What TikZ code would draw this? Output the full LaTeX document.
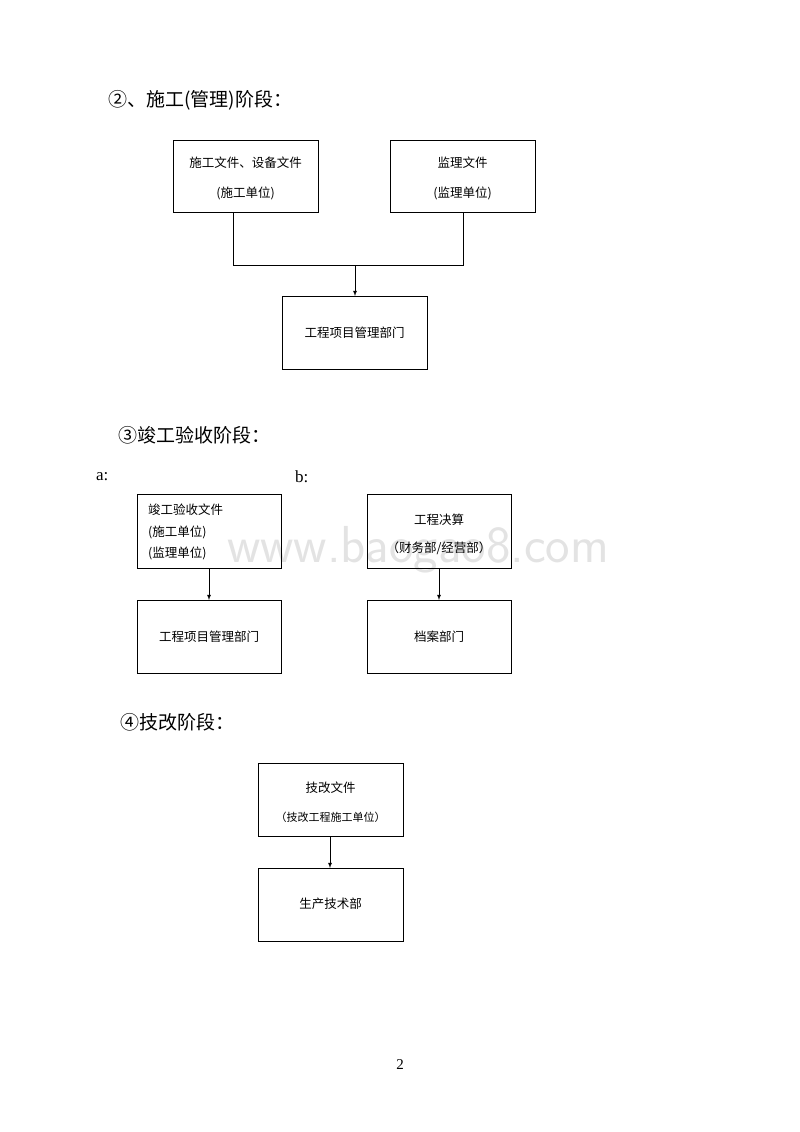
\documentclass[tikz,border=0pt]{standalone}
\usepackage{fontspec}
\setmainfont{Liberation Serif}
\newfontfamily\cjk{Noto Sans CJK SC}
\begin{document}
\begin{tikzpicture}[x=1pt,y=-1pt,
  bx/.style={draw,line width=0.8pt},
  t/.style={font=\cjk\fontsize{12.5}{14}\selectfont,inner sep=0},
  ts/.style={font=\cjk\fontsize{11}{13}\selectfont,inner sep=0},
  hd/.style={font=\cjk\fontsize{19}{22}\selectfont,anchor=west,inner sep=0},
  ar/.style={-latex,line width=0.8pt},
  ln/.style={line width=0.8pt}]
\useasboundingbox (0,0) rectangle (800,1132);
\node[text=gray!22,font=\fontsize{52}{58}\selectfont\sffamily] (wm) at (418,550) {www.baogao8.com};
\node[hd] (h2) at (108,100) {②、施工(管理)阶段：};
\draw[bx] (173,140) rectangle (318,212);
\node[t] (b1a) at (245.5,163) {施工文件、设备文件};
\node[t] (b1b) at (245.5,193) {(施工单位)};
\draw[bx] (390,140) rectangle (535,212);
\node[t] (b2a) at (462.5,163) {监理文件};
\node[t] (b2b) at (462.5,193) {(监理单位)};
\draw[bx] (282,296) rectangle (427,369);
\node[t] (b3) at (354.5,333) {工程项目管理部门};
\coordinate (j) at (355,265);
\draw[ln] (233,212) -- (233,265) -- (463,265) -- (463,212);
\coordinate (b3t) at (355,296);
\draw[ar] (j) -- (b3t);
\node[hd] (h3) at (118,435) {③竣工验收阶段：};
\node[hd,font=\fontsize{17}{20}\selectfont] (la) at (96,477) {a:};
\node[hd,font=\fontsize{17}{20}\selectfont] (lb) at (295,477) {b:};
\draw[bx] (137,494) rectangle (281,568);
\node[t,anchor=west] (a1) at (148,510) {竣工验收文件};
\node[t,anchor=west] (a2) at (148,532) {(施工单位)};
\node[t,anchor=west] (a3) at (148,553) {(监理单位)};
\draw[bx] (137,600) rectangle (281,673);
\node[t] (a4) at (209,637) {工程项目管理部门};
\coordinate (aa) at (209,568); \coordinate (ab) at (209,600);
\draw[ar] (aa) -- (ab);
\draw[bx] (367,494) rectangle (511,568);
\node[t] (c1) at (439,520) {工程决算};
\node[t] (c2) at (439,548) {（财务部/经营部）};
\draw[bx] (367,600) rectangle (511,673);
\node[t] (c3) at (439,637) {档案部门};
\coordinate (ca) at (439,568); \coordinate (cb) at (439,600);
\draw[ar] (ca) -- (cb);
\node[hd] (h4) at (120,722) {④技改阶段：};
\draw[bx] (258,763) rectangle (403,836);
\node[t] (d1) at (330.5,788) {技改文件};
\node[ts] (d2) at (330.5,817) {（技改工程施工单位）};
\draw[bx] (258,868) rectangle (403,941);
\node[t] (d3) at (330.5,904) {生产技术部};
\coordinate (da) at (330,836); \coordinate (db) at (330,868);
\draw[ar] (da) -- (db);
\node[font=\fontsize{15}{18}\selectfont] (pg) at (400,1065) {2};
\end{tikzpicture}
\end{document}
